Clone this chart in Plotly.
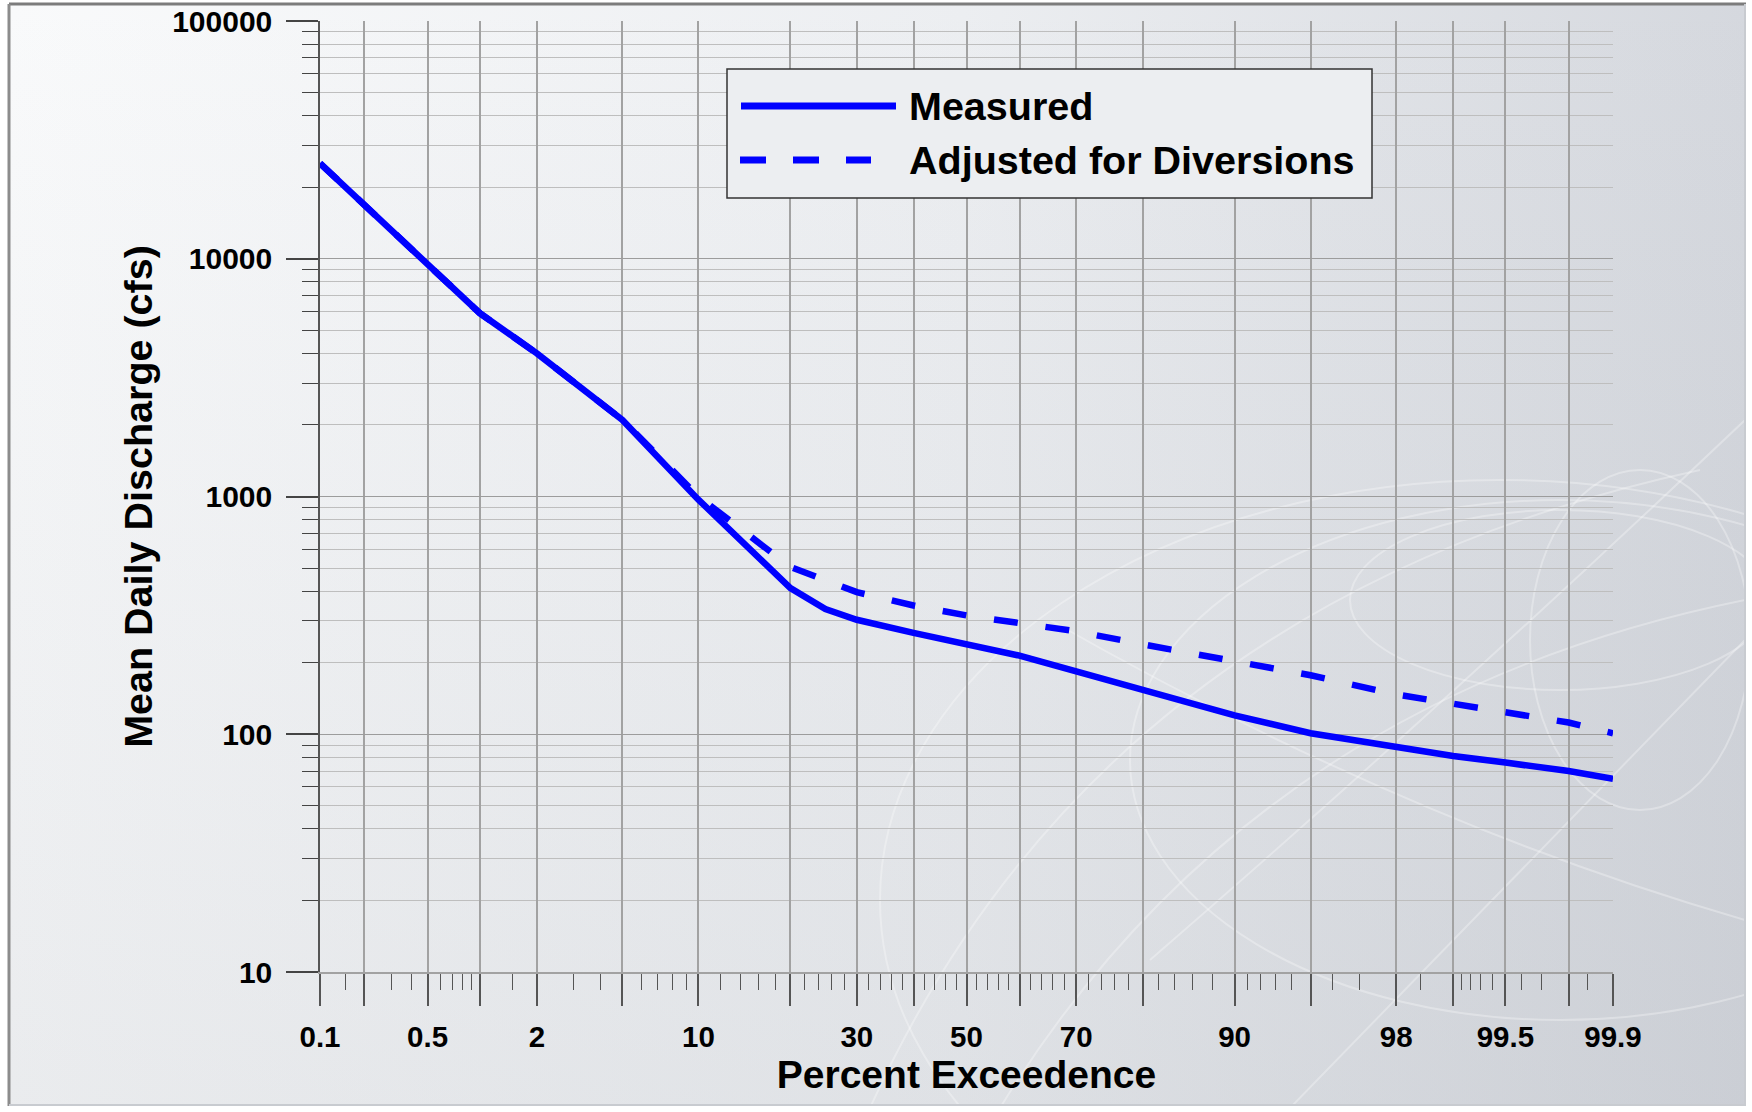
import base64
import statistics
import plotly.graph_objects as go

# ---------------- data ----------------
pct_measured = [0.1, 0.2, 0.5, 1, 2, 5, 10, 20, 25, 30, 40, 50, 60, 70, 80, 90, 95, 98, 99, 99.5, 99.8, 99.9]
measured = [25200, 16900, 9600, 5900, 4000, 2100, 970, 412, 336, 303, 267, 238, 214, 184, 154, 120, 101, 88, 81, 76, 70, 65]

pct_adjusted = [0.1, 0.2, 0.5, 1, 2, 5, 10, 15, 20, 30, 40, 50, 60, 70, 80, 90, 95, 98, 99, 99.5, 99.8, 99.9]
adjusted = [25200, 16900, 9600, 5900, 4000, 2100, 1000, 680, 505, 396, 348, 316, 293, 271, 239, 203, 177, 147, 135, 123, 112, 101]

grid_pct = [0.1, 0.2, 0.5, 1, 2, 5, 10, 20, 30, 40, 50, 60, 70, 80, 90, 95, 98, 99, 99.5, 99.8, 99.9]
labeled_pct = [0.1, 0.5, 2, 10, 30, 50, 70, 90, 98, 99.5, 99.9]
minor_pct = [0.15, 0.3, 0.4, 0.6, 0.7, 0.8, 0.9, 1.5, 3, 4, 6, 7, 8, 9,
             12, 14, 16, 18, 22, 24, 26, 28, 32, 34, 36, 38, 42, 44, 46, 48,
             52, 54, 56, 58, 62, 64, 66, 68, 72, 74, 76, 78, 82, 84, 86, 88,
             91, 92, 93, 94, 96, 97, 98.5, 99.1, 99.2, 99.3, 99.4, 99.6, 99.7, 99.85]

y_major = [10, 100, 1000, 10000, 100000]
y_labels = ["10", "100", "1000", "10000", "100000"]
y_minor = [m * d for d in (10, 100, 1000, 10000) for m in range(2, 10)]

series_names = ["Measured", "Adjusted for Diversions"]
x_title = "Percent Exceedence"
y_title = "Mean Daily Discharge (cfs)"

# ---------------- helpers ----------------
ND = statistics.NormalDist()


def zscore(p):
    return ND.inv_cdf(p / 100.0)


def fmt(p):
    return "%g" % p


FONT = "Arial, Liberation Sans, sans-serif"
BLUE = "#0000ff"
DASH = "24px,28px"

W, H = 1752, 1112
ML, MR, MT, MB = 320, 139, 21, 140
PW, PH = W - ML - MR, H - MT - MB


def px(xp):
    return (xp - ML) / PW


def py(yp):
    return (H - MB - yp) / PH


# ---------------- background (panel gradient + faint globe) ----------------
svg = f'''<svg xmlns="http://www.w3.org/2000/svg" width="{W}" height="{H}" viewBox="0 0 {W} {H}">
<defs>
<linearGradient id="gh" x1="0" y1="0" x2="1" y2="0">
<stop offset="0" stop-color="#f9fafb"/><stop offset="0.55" stop-color="#eceef1"/><stop offset="1" stop-color="#d5d8de"/>
</linearGradient>
<linearGradient id="gv" x1="0" y1="0" x2="0" y2="1">
<stop offset="0" stop-color="#8c929c" stop-opacity="0"/><stop offset="1" stop-color="#8c929c" stop-opacity="0.14"/>
</linearGradient>
<clipPath id="cp"><rect x="9" y="4" width="1736" height="1101"/></clipPath>
</defs>
<rect width="{W}" height="{H}" fill="#ffffff"/>
<rect x="9" y="4" width="1736" height="1101" fill="url(#gh)"/>
<rect x="9" y="4" width="1736" height="1101" fill="url(#gv)"/>
<g clip-path="url(#cp)" fill="none" stroke="#ffffff" stroke-opacity="0.3" stroke-width="2">
<ellipse cx="1560" cy="600" rx="210" ry="90"/>
<ellipse cx="1500" cy="900" rx="620" ry="420"/>
<ellipse cx="1560" cy="760" rx="430" ry="260"/>
<ellipse cx="1640" cy="640" rx="110" ry="170"/>
<path d="M870 1108 Q1100 600 1700 470"/>
<path d="M1000 1108 Q1250 700 1745 600"/>
<path d="M1290 1108 L1745 640"/>
<path d="M1050 620 Q1400 820 1745 920"/>
<path d="M1150 960 Q1450 700 1745 420"/>
</g>
<line x1="9" y1="4" x2="1746" y2="4" stroke="#7c7c7c" stroke-width="3"/>
<line x1="9" y1="4" x2="9" y2="1106" stroke="#8c8c8c" stroke-width="3"/>
<line x1="1745" y1="4" x2="1745" y2="1106" stroke="#c8cbd0" stroke-width="2"/>
<line x1="9" y1="1105" x2="1746" y2="1105" stroke="#c8cbd0" stroke-width="2"/>
</svg>'''
bg_uri = "data:image/svg+xml;base64," + base64.b64encode(svg.encode()).decode()

# ---------------- figure ----------------
fig = go.Figure()
fig.add_trace(go.Scatter(
    x=[zscore(p) for p in pct_measured], y=measured, mode="lines",
    name=series_names[0], line=dict(color=BLUE, width=6.5), showlegend=False))
fig.add_trace(go.Scatter(
    x=[zscore(p) for p in pct_adjusted], y=adjusted, mode="lines",
    name=series_names[1], line=dict(color=BLUE, width=6.5, dash=DASH), showlegend=False))

x_ticktext = [fmt(p) if p in labeled_pct else "" for p in grid_pct]
eps = 1e-6
fig.update_xaxes(
    range=[zscore(0.1) - eps, zscore(99.9) + eps],
    tickmode="array", tickvals=[zscore(p) for p in grid_pct], ticktext=x_ticktext,
    ticks="outside", ticklen=32, tickwidth=1.5, tickcolor="#555555",
    showgrid=True, gridcolor="#a2a2a2", gridwidth=2, zeroline=False,
    showline=True, linecolor="#a2a2a2", linewidth=2,
    minor=dict(tickmode="array", tickvals=[zscore(p) for p in minor_pct],
               ticks="outside", ticklen=16, tickwidth=1.2, tickcolor="#555555", showgrid=False),
    tickfont=dict(family=FONT, size=29.5, color="#000000", weight="bold"),
    ticklabelstandoff=6, ticklabeloverflow="allow",
    title=dict(text=x_title, font=dict(family=FONT, size=39, color="#000000", weight="bold"), standoff=6),
)
fig.update_yaxes(
    type="log", range=[1, 5],
    tickmode="array", tickvals=y_major, ticktext=y_labels,
    ticks="outside", ticklen=32, tickwidth=1.5, tickcolor="#444444",
    showgrid=True, gridcolor="#9c9c9c", gridwidth=1.3, zeroline=False,
    showline=True, linecolor="#555555", linewidth=1.5,
    minor=dict(tickmode="array", tickvals=y_minor, ticks="outside", ticklen=16,
               tickwidth=1.2, tickcolor="#444444", showgrid=True, gridcolor="#bebebe", gridwidth=1),
    tickfont=dict(family=FONT, size=30, color="#000000", weight="bold"),
    ticklabelstandoff=8, ticklabeloverflow="allow",
    title=dict(text=y_title, font=dict(family=FONT, size=39.5, color="#000000", weight="bold"), standoff=7),
)

# ---------------- legend (drawn box) ----------------
lx0, lx1, ly0, ly1 = 727, 1372, 69, 198
shapes = [
    dict(type="rect", xref="paper", yref="paper", x0=px(lx0), x1=px(lx1), y0=py(ly1), y1=py(ly0),
         fillcolor="#eceef1", line=dict(color="#333333", width=1.5), layer="above"),
    dict(type="line", xref="paper", yref="paper", x0=px(741), x1=px(896), y0=py(106), y1=py(106),
         line=dict(color=BLUE, width=7), layer="above"),
    dict(type="line", xref="paper", yref="paper", x0=px(740), x1=px(871), y0=py(160), y1=py(160),
         line=dict(color=BLUE, width=7, dash="26px,27px"), layer="above"),
]
annotations = [
    dict(xref="paper", yref="paper", x=px(907), y=py(106), xanchor="left", yanchor="middle",
         text=series_names[0], showarrow=False,
         font=dict(family=FONT, size=39.5, color="#000000", weight="bold")),
    dict(xref="paper", yref="paper", x=px(907), y=py(160), xanchor="left", yanchor="middle",
         text=series_names[1], showarrow=False,
         font=dict(family=FONT, size=39.5, color="#000000", weight="bold")),
]

fig.update_layout(
    width=W, height=H,
    margin=dict(l=ML, r=MR, t=MT, b=MB, autoexpand=False),
    paper_bgcolor="#ffffff", plot_bgcolor="rgba(0,0,0,0)",
    showlegend=False,
    shapes=shapes, annotations=annotations,
    images=[dict(source=bg_uri, xref="paper", yref="paper",
                 x=-ML / PW, y=1 + MT / PH, sizex=W / PW, sizey=H / PH,
                 xanchor="left", yanchor="top", sizing="stretch", layer="below")],
)

# remove the default page margin so the 1752x1112 figure fills the window exactly
fig.write_html("out.html", config={"displayModeBar": False},
               post_script="document.body.style.margin='0';")
